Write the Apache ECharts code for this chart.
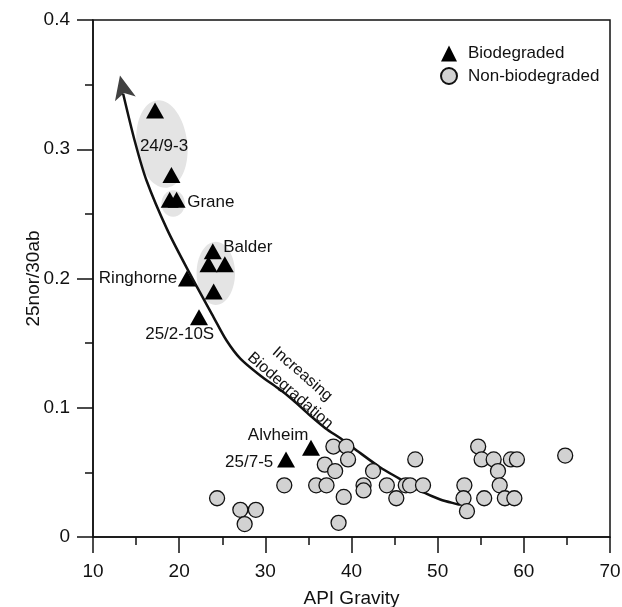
<!DOCTYPE html>
<html><head><meta charset="utf-8">
<script src="https://cdn.jsdelivr.net/npm/echarts@6/dist/echarts.min.js"></script>
<style>html,body{margin:0;padding:0;background:#fff}#c{width:622px;height:607px}</style>
</head><body><div id="c"></div>
<script>
// ---- data ----
const xTickValues = [10, 20, 30, 40, 50, 60, 70];
const yTickValues = [0, 0.1, 0.2, 0.3, 0.4];
const xAxisTitle = 'API Gravity';
const yAxisTitle = '25nor/30ab';
const seriesNames = ['Biodegraded', 'Non-biodegraded'];

const biodegraded = [
  [17.2, 0.330], [19.1, 0.280], [18.9, 0.261], [19.7, 0.261],
  [23.9, 0.221], [23.4, 0.211], [25.3, 0.211], [24.0, 0.190],
  [20.9, 0.200], [22.3, 0.170], [35.3, 0.069], [32.4, 0.060]
];
const nonBiodegraded = [
  [24.4, 0.030], [27.1, 0.021], [28.9, 0.021], [27.6, 0.010],
  [32.2, 0.040], [35.9, 0.040], [37.1, 0.040], [36.9, 0.056],
  [38.1, 0.051], [37.9, 0.070], [39.4, 0.070], [39.6, 0.060],
  [39.1, 0.031], [38.5, 0.011], [42.5, 0.051], [41.4, 0.040],
  [41.4, 0.036], [44.1, 0.040], [45.2, 0.030], [46.3, 0.040],
  [46.8, 0.040], [48.3, 0.040], [47.4, 0.060], [53.1, 0.040],
  [53.0, 0.030], [53.4, 0.020], [54.7, 0.070], [55.1, 0.060],
  [56.5, 0.060], [57.0, 0.051], [57.2, 0.040], [55.4, 0.030],
  [57.8, 0.030], [58.9, 0.030], [58.5, 0.060], [59.2, 0.060],
  [64.8, 0.063]
];
const trendCurve = [
  [13.5, 0.343], [14.9, 0.305], [16.2, 0.276], [18.6, 0.238],
  [21.3, 0.203], [24.0, 0.170], [25.5, 0.152], [27.1, 0.138],
  [29.4, 0.125], [31.5, 0.115], [33.2, 0.106], [35.2, 0.094],
  [37.0, 0.084], [38.8, 0.076], [40.6, 0.067], [43.3, 0.054],
  [45.6, 0.045], [47.9, 0.036], [50.3, 0.029], [52.6, 0.025]
];
const trendArrowTip = [[13.13, 0.357]];
// [centre x, centre y, half-width (API units), half-height (ratio units)]
const groupEllipses = [
  [18.0, 0.304, 2.94, 0.034],
  [19.3, 0.258, 1.36, 0.0103],
  [24.25, 0.204, 2.23, 0.0245]
];
// [x, y, text]
const pointLabels = [
  [18.24, 0.3025, '24/9-3'],
  [20.93, 0.2587, 'Grane'],
  [25.12, 0.2241, 'Balder'],
  [19.78, 0.2001, 'Ringhorne'],
  [20.06, 0.157, '25/2-10S'],
  [34.99, 0.0789, 'Alvheim'],
  [30.92, 0.0575, '25/7-5']
];
const labelAlign = ['center', 'left', 'left', 'right', 'center', 'right', 'right'];
const trendLabels = [
  [34.29, 0.1261, 'Increasing'],
  [32.9, 0.1132, 'Biodegradation']
];

// ---- chart ----
const FONT = '"Liberation Sans", Arial, Helvetica, sans-serif';
const chart = echarts.init(document.getElementById('c'), null, {renderer: 'canvas'});
const xStep = xTickValues[1] - xTickValues[0];
const yStep = yTickValues[1] - yTickValues[0];

chart.setOption({
  animation: false,
  backgroundColor: '#fff',
  textStyle: {fontFamily: FONT},
  grid: {left: 93, right: 12, top: 20, bottom: 70, show: true, borderColor: '#111', borderWidth: 1.5,
    backgroundColor: 'transparent', containLabel: false, outerBoundsMode: 'none'},
  legend: {
    orient: 'vertical', left: 435, top: 40, itemWidth: 16, itemHeight: 16, itemGap: 5,
    textStyle: {fontSize: 17, color: '#111', fontFamily: FONT, padding: [0, 0, 0, 6]},
    data: [{name: seriesNames[0], icon: 'triangle'}, {name: seriesNames[1], icon: 'circle'}]
  },
  xAxis: {
    type: 'value', min: xTickValues[0], max: xTickValues[xTickValues.length - 1], interval: xStep,
    name: xAxisTitle, nameLocation: 'middle', nameGap: 52, nameMoveOverlap: false,
    nameTextStyle: {fontSize: 19, color: '#111', fontFamily: FONT},
    axisLine: {show: true, lineStyle: {color: '#111', width: 1.5}},
    axisTick: {show: true, length: 16, lineStyle: {color: '#111', width: 1.5}},
    minorTick: {show: true, splitNumber: 2, length: 8, lineStyle: {color: '#111', width: 1.5}},
    splitLine: {show: false},
    axisLabel: {fontSize: 19, color: '#111', margin: 25, fontFamily: FONT}
  },
  yAxis: {
    type: 'value', min: yTickValues[0], max: yTickValues[yTickValues.length - 1], interval: yStep,
    name: yAxisTitle, nameLocation: 'middle', nameGap: 50, nameRotate: 90, nameMoveOverlap: false,
    nameTextStyle: {fontSize: 19, color: '#111', fontFamily: FONT},
    axisLine: {show: true, lineStyle: {color: '#111', width: 1.5}},
    axisTick: {show: true, length: 16, lineStyle: {color: '#111', width: 1.5}},
    minorTick: {show: true, splitNumber: 2, length: 8, lineStyle: {color: '#111', width: 1.5}},
    splitLine: {show: false},
    axisLabel: {fontSize: 19, color: '#111', margin: 23, fontFamily: FONT,
      formatter: v => String(+v.toFixed(2))}
  },
  series: [
    {
      type: 'custom', name: 'ellipses', z: 1, silent: true,
      data: groupEllipses,
      renderItem: function (params, api) {
        const c = api.coord([api.value(0), api.value(1)]);
        const s = api.size([api.value(2), api.value(3)]);
        return {
          type: 'ellipse', x: c[0], y: c[1],
          rotation: params.dataIndex === 0 ? 0.12 : 0,
          shape: {cx: 0, cy: 0, rx: s[0], ry: s[1]},
          style: {fill: '#e4e4e4'}
        };
      }
    },
    {
      type: 'line', name: 'trend', z: 2, smooth: 0.3, showSymbol: false, silent: true,
      data: trendCurve,
      lineStyle: {color: '#111', width: 2.5}
    },
    {
      type: 'scatter', name: 'arrow', z: 2, silent: true,
      data: trendArrowTip, symbol: 'arrow', symbolSize: [16, 24], symbolRotate: 13,
      itemStyle: {color: '#111'}
    },
    {
      type: 'scatter', name: seriesNames[0], z: 4,
      data: biodegraded, symbol: 'triangle', symbolSize: [18, 16],
      itemStyle: {color: '#000', opacity: 1}
    },
    {
      type: 'scatter', name: seriesNames[1], z: 3,
      data: nonBiodegraded, symbol: 'circle', symbolSize: 15,
      itemStyle: {color: '#d2d2d2', borderColor: '#111', borderWidth: 1.3, opacity: 1}
    },
    {
      type: 'custom', name: 'labels', z: 5, silent: true,
      data: pointLabels,
      renderItem: function (params, api) {
        const c = api.coord([api.value(0), api.value(1)]);
        return {
          type: 'text', x: c[0], y: c[1],
          style: {text: pointLabels[params.dataIndex][2], fontSize: 17, fontFamily: FONT, fill: '#111',
            align: labelAlign[params.dataIndex], verticalAlign: 'middle'}
        };
      }
    },
    {
      type: 'custom', name: 'trendLabels', z: 5, silent: true,
      data: trendLabels,
      renderItem: function (params, api) {
        const c = api.coord([api.value(0), api.value(1)]);
        return {
          type: 'text', x: c[0], y: c[1], rotation: -41 * Math.PI / 180,
          style: {text: trendLabels[params.dataIndex][2], fontSize: 16, fontFamily: FONT, fill: '#111',
            align: 'center', verticalAlign: 'middle'}
        };
      }
    }
  ]
});
</script>
</body></html>
